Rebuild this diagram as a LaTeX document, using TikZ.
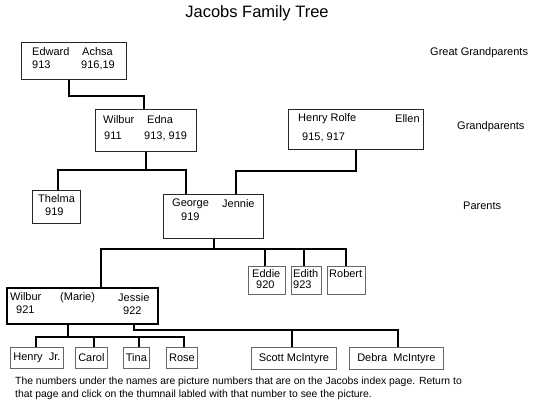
\documentclass[tikz,border=0pt]{standalone}
\usepackage{fontspec}
\setmainfont{Liberation Sans}
\begin{document}
\begin{tikzpicture}[x=1pt,y=-1pt,
  box/.style={draw=black!85, line width=1.1pt, inner sep=0pt, anchor=north west},
  sbox/.style={draw=black!60, line width=0.8pt, inner sep=0pt, anchor=north west},
  txt/.style={inner sep=0pt, anchor=west, font=\fontsize{11}{13}\selectfont},
  ctxt/.style={inner sep=0pt, font=\fontsize{11}{13}\selectfont},
  link/.style={draw=black, line width=1.3pt},
  thick link/.style={draw=black, line width=2.3pt}]
\useasboundingbox (0,0) rectangle (560,420);
\fill[white] (0,0) rectangle (560,420);

% title
\node[inner sep=0pt, font=\fontsize{16.5}{19}\selectfont] (title) at (257,13) {Jacobs Family Tree};

% generation labels
\node[txt] (lgg) at (430,53) {Great Grandparents};
\node[txt] (lgp) at (457,127) {Grandparents};
\node[txt] (lp) at (463,206) {Parents};

% boxes
\node[box, minimum width=105pt, minimum height=37pt] (ed) at (21,42) {};
\node[box, minimum width=101pt, minimum height=42pt] (wil) at (95,109) {};
\node[box, minimum width=135pt, minimum height=40pt] (hr) at (288,109) {};
\node[box, minimum width=48pt, minimum height=33pt] (th) at (32,190) {};
\node[box, minimum width=100pt, minimum height=44pt] (ge) at (163,194) {};
\node[sbox, minimum width=37pt, minimum height=28pt] (eddie) at (248,266) {};
\node[sbox, minimum width=30pt, minimum height=28pt] (edith) at (291,266) {};
\node[sbox, minimum width=38pt, minimum height=28pt] (robert) at (327,266) {};
\node[draw=black, line width=2pt, inner sep=0pt, anchor=north west, minimum width=151pt, minimum height=36pt] (wj) at (6,287) {};
\node[sbox, minimum width=53pt, minimum height=21pt] (henry) at (10,347) {};
\node[sbox, minimum width=32pt, minimum height=21pt] (carol) at (75,347) {};
\node[sbox, minimum width=26pt, minimum height=21pt] (tina) at (123,347) {};
\node[sbox, minimum width=31pt, minimum height=21pt] (rose) at (166,347) {};
\node[sbox, minimum width=85pt, minimum height=22pt] (scott) at (251,347) {};
\node[sbox, minimum width=94pt, minimum height=22pt] (debra) at (349,347) {};

% texts in boxes
\node[txt] (t1) at (32,52) {Edward};
\node[txt] (t2) at (82,52) {Achsa};
\node[txt] (t3) at (32,65) {913};
\node[txt] (t4) at (81,65) {916,19};

\node[txt] (t5) at (103,120) {Wilbur};
\node[txt] (t6) at (147,120) {Edna};
\node[txt] (t7) at (104,136) {911};
\node[txt] (t8) at (144,136) {913, 919};

\node[txt] (t9) at (298,119) {Henry Rolfe};
\node[txt] (t10) at (395,119) {Ellen};
\node[txt] (t11) at (302,137) {915, 917};

\node[txt] (t12) at (38,199) {Thelma};
\node[txt] (t13) at (45,212) {919};

\node[txt] (t14) at (172,204) {George};
\node[txt] (t15) at (222,204) {Jennie};
\node[txt] (t16) at (181,217) {919};

\node[txt] (t17) at (252,274) {Eddie};
\node[txt] (t18) at (256,285) {920};
\node[txt] (t19) at (293,274) {Edith};
\node[txt] (t20) at (293,285) {923};
\node[txt] (t21) at (329,274) {Robert};

\node[txt] (t22) at (10,297) {Wilbur};
\node[txt] (t23) at (60,298) {(Marie)};
\node[txt] (t24) at (118,298) {Jessie};
\node[txt] (t25) at (16,310) {921};
\node[txt] (t26) at (123,311) {922};

\node[ctxt] at (henry.center) {Henry\ \ Jr.};
\node[ctxt] at (carol.center) {Carol};
\node[ctxt] at (tina.center) {Tina};
\node[ctxt] at (rose.center) {Rose};
\node[ctxt] at (scott.center) {Scott McIntyre};
\node[ctxt] at (debra.center) {Debra\ \ McIntyre};

% caption
\node[inner sep=0pt, anchor=north west, align=left, font=\fontsize{10.4}{12.6}\selectfont] (cap) at (15,377)
 {The numbers under the names are picture numbers that are on the Jacobs index page. Return to\\
  that page and click on the thumnail labled with that number to see the picture.};

% junction coordinates
\coordinate (j1) at (69,96);
\coordinate (j2) at (144,96);
\coordinate (j3) at (146,170);
\coordinate (j4) at (58,170);
\coordinate (j5) at (186,170);
\coordinate (j6) at (356,171);
\coordinate (j7) at (236,171);
\coordinate (j8) at (214,249);
\coordinate (j9) at (101,249);
\coordinate (j10) at (346,249);
\coordinate (j11) at (68,337);
\coordinate (j12) at (36,337);
\coordinate (j13) at (184,337);
\coordinate (j14) at (134,330);
\coordinate (j15) at (398,330);

% connectors
\draw[thick link] (j1 |- ed.south) -- (j1) -- (j2) -- (j2 |- wil.north);
\draw[link] (j3 |- wil.south) -- (j3);
\draw[link] (j4 |- th.north) -- (j4) -- (j5) -- (j5 |- ge.north);
\draw[link] (j6 |- hr.south) -- (j6) -- (j7) -- (j7 |- ge.north);
\draw[link] (j8 |- ge.south) -- (j8);
\draw[link] (j9 |- wj.north) -- (j9) -- (j10) -- (j10 |- robert.north);
\draw[link] (265,249) -- (265,249 |- eddie.north);
\draw[link] (304,249) -- (304,249 |- edith.north);
\draw[link] (j11 |- wj.south) -- (j11);
\draw[link] (j12 |- henry.north) -- (j12) -- (j13) -- (j13 |- rose.north);
\draw[link] (94,337) -- (94,337 |- carol.north);
\draw[link] (139,337) -- (139,337 |- tina.north);
\draw[link] (j14 |- wj.south) -- (j14) -- (j15) -- (j15 |- debra.north);
\draw[link] (292,330) -- (292,330 |- scott.north);
\end{tikzpicture}
\end{document}
